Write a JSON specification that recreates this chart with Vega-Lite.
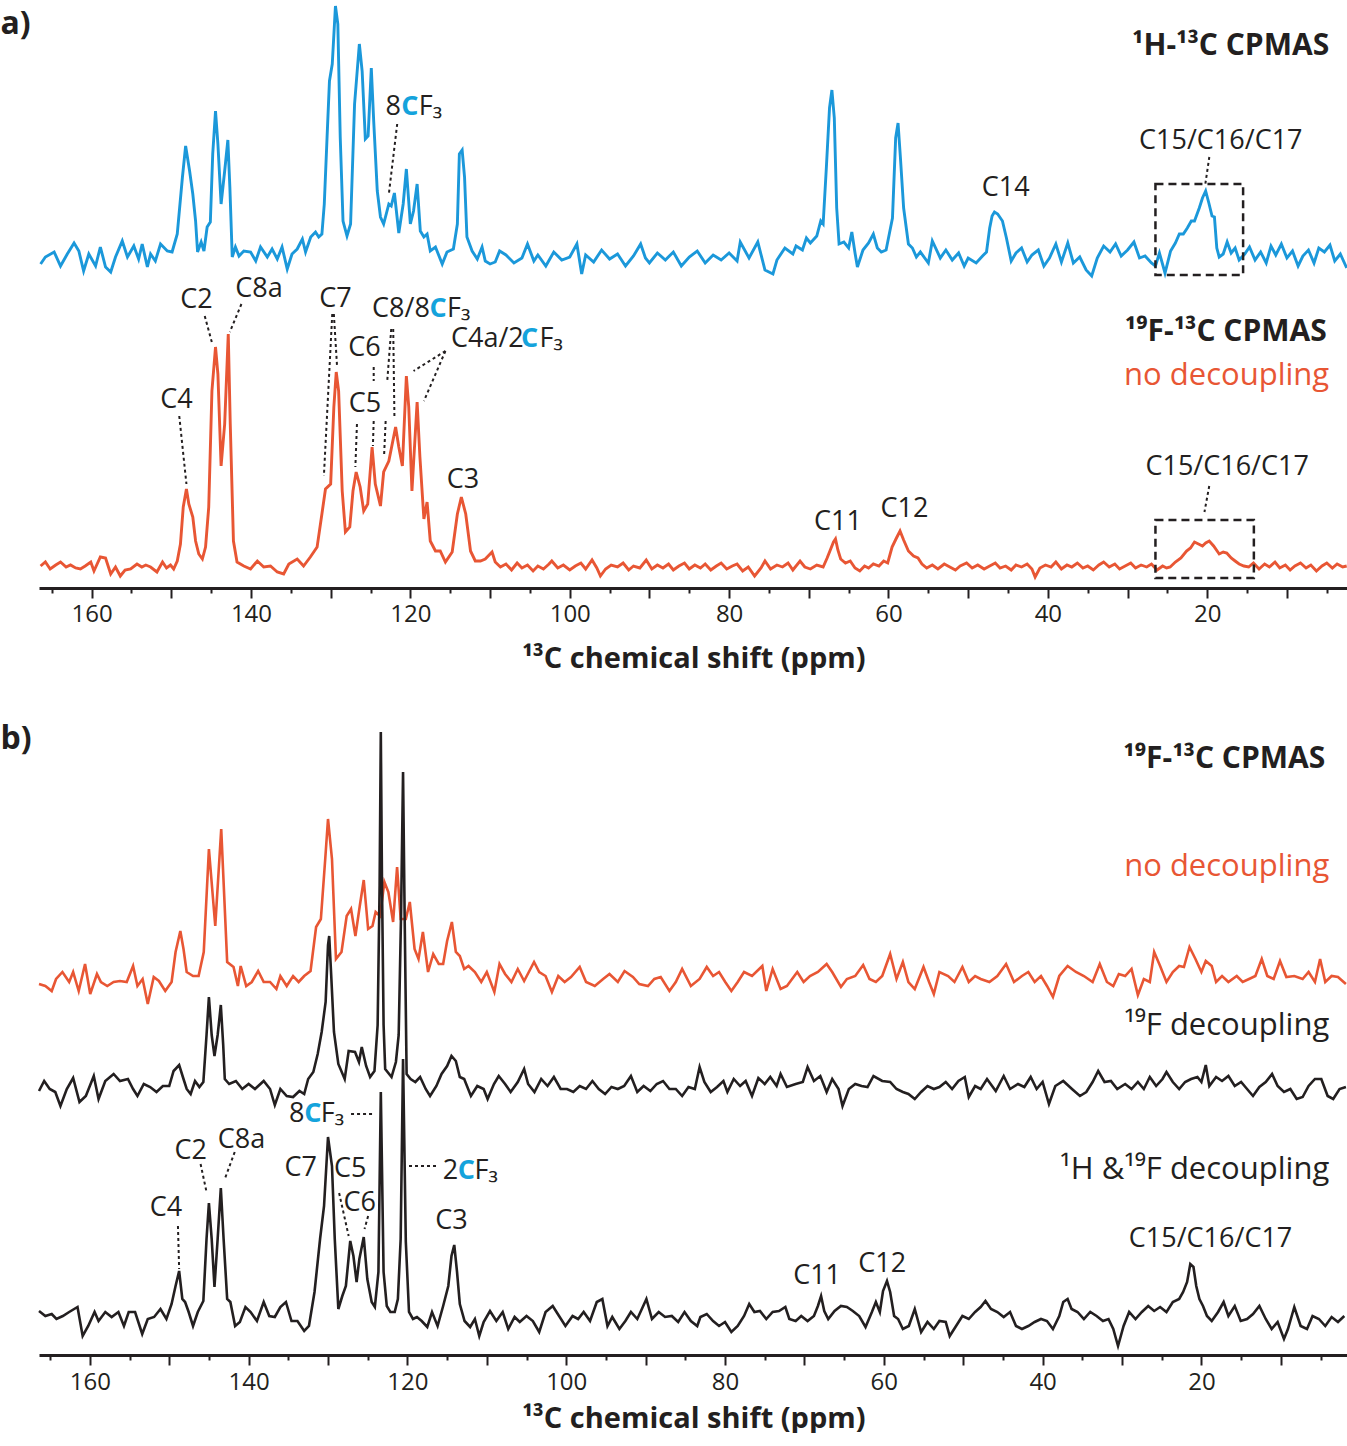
{
"$schema":"https://vega.github.io/schema/vega-lite/v6.json",
"padding":0,
"background":"white",
"spacing":46,
"config":{"view":{"stroke":null},"font":"Open Sans"},
"datasets":{
"a1":[{"p":166.4,"v":324},{"p":165.8,"v":331},{"p":164.7,"v":336},{"p":163.9,"v":322},{"p":163.05,"v":334},{"p":162.2,"v":345},{"p":161.6,"v":337},{"p":161.0,"v":317},{"p":160.35,"v":334},{"p":159.5,"v":322},{"p":158.9,"v":341},{"p":158.25,"v":321},{"p":157.6,"v":316},{"p":157.0,"v":331},{"p":156.15,"v":347},{"p":155.5,"v":331},{"p":154.7,"v":342},{"p":154.1,"v":329},{"p":153.65,"v":344},{"p":153.0,"v":321},{"p":152.6,"v":334},{"p":152.0,"v":327},{"p":151.35,"v":344},{"p":150.5,"v":337},{"p":149.9,"v":336},{"p":149.25,"v":354},{"p":148.6,"v":411},{"p":148.2,"v":442},{"p":147.7,"v":417},{"p":147.3,"v":394},{"p":146.95,"v":367},{"p":146.7,"v":336},{"p":146.25,"v":346},{"p":145.9,"v":337},{"p":145.5,"v":361},{"p":145.1,"v":366},{"p":144.8,"v":434},{"p":144.45,"v":477},{"p":144.15,"v":444},{"p":143.75,"v":384},{"p":143.3,"v":417},{"p":142.9,"v":448},{"p":142.65,"v":401},{"p":142.35,"v":331},{"p":141.95,"v":341},{"p":141.5,"v":332},{"p":140.9,"v":337},{"p":140.05,"v":336},{"p":139.4,"v":327},{"p":138.8,"v":341},{"p":137.95,"v":331},{"p":137.35,"v":339},{"p":136.7,"v":329},{"p":136.1,"v":341},{"p":135.45,"v":319},{"p":134.85,"v":334},{"p":134.2,"v":339},{"p":133.55,"v":349},{"p":133.15,"v":336},{"p":132.5,"v":351},{"p":131.9,"v":356},{"p":131.5,"v":351},{"p":131.1,"v":354},{"p":130.8,"v":384},{"p":130.45,"v":451},{"p":130.15,"v":507},{"p":129.8,"v":524},{"p":129.4,"v":582},{"p":129.1,"v":564},{"p":128.8,"v":451},{"p":128.45,"v":367},{"p":127.95,"v":352},{"p":127.5,"v":364},{"p":127.0,"v":484},{"p":126.4,"v":544},{"p":126.05,"v":517},{"p":125.65,"v":449},{"p":125.3,"v":452},{"p":124.9,"v":520},{"p":124.6,"v":467},{"p":124.15,"v":397},{"p":123.75,"v":371},{"p":123.35,"v":364},{"p":122.7,"v":384},{"p":122.4,"v":382},{"p":122.0,"v":395},{"p":121.45,"v":355},{"p":120.9,"v":384},{"p":120.5,"v":419},{"p":120.0,"v":364},{"p":119.6,"v":377},{"p":119.15,"v":404},{"p":118.75,"v":357},{"p":118.3,"v":351},{"p":117.9,"v":354},{"p":117.5,"v":337},{"p":116.85,"v":341},{"p":116.0,"v":324},{"p":115.4,"v":336},{"p":114.6,"v":339},{"p":114.1,"v":364},{"p":113.85,"v":434},{"p":113.5,"v":438},{"p":113.2,"v":411},{"p":112.9,"v":351},{"p":112.25,"v":337},{"p":111.6,"v":329},{"p":111.0,"v":341},{"p":110.6,"v":327},{"p":110.0,"v":324},{"p":109.35,"v":326},{"p":108.8,"v":337},{"p":108,"v":333},{"p":107,"v":325},{"p":106,"v":330},{"p":105.3,"v":344},{"p":104.5,"v":327},{"p":104,"v":333},{"p":103,"v":322},{"p":102,"v":336},{"p":101,"v":328},{"p":100,"v":331},{"p":99.1,"v":344},{"p":98.5,"v":314},{"p":98,"v":333},{"p":97,"v":326},{"p":96,"v":338},{"p":95,"v":329},{"p":94,"v":334},{"p":93,"v":322},{"p":92,"v":332},{"p":91.1,"v":344},{"p":90.5,"v":330},{"p":90,"v":325},{"p":89,"v":335},{"p":88,"v":328},{"p":87,"v":336},{"p":86,"v":322},{"p":85,"v":331},{"p":84,"v":337},{"p":83,"v":325},{"p":82,"v":333},{"p":81,"v":328},{"p":80,"v":335},{"p":79,"v":327},{"p":78.6,"v":346},{"p":77.5,"v":330},{"p":76.4,"v":346},{"p":75.5,"v":318},{"p":74.5,"v":314},{"p":74,"v":328},{"p":73,"v":340},{"p":72,"v":334},{"p":71.6,"v":342},{"p":70.8,"v":338},{"p":70.3,"v":350},{"p":69.8,"v":345},{"p":69,"v":352},{"p":68.5,"v":367},{"p":68.2,"v":364},{"p":67.8,"v":420},{"p":67.4,"v":480},{"p":67.1,"v":498},{"p":66.8,"v":470},{"p":66.5,"v":380},{"p":66.2,"v":344},{"p":65.6,"v":346},{"p":65.0,"v":340},{"p":64.6,"v":356},{"p":64.2,"v":335},{"p":63.9,"v":321},{"p":63.2,"v":338},{"p":62.5,"v":345},{"p":61.9,"v":354},{"p":61.4,"v":340},{"p":60.9,"v":336},{"p":60.3,"v":338},{"p":59.9,"v":354},{"p":59.5,"v":370},{"p":59.1,"v":450},{"p":58.8,"v":465},{"p":58.5,"v":430},{"p":58.1,"v":380},{"p":57.5,"v":344},{"p":57,"v":340},{"p":56.5,"v":331},{"p":56,"v":336},{"p":55,"v":325},{"p":54.5,"v":347},{"p":53.5,"v":330},{"p":52.8,"v":338},{"p":52,"v":328},{"p":51.2,"v":335},{"p":50.5,"v":322},{"p":50,"v":330},{"p":49,"v":325},{"p":48.2,"v":332},{"p":47.7,"v":336},{"p":47.3,"v":360},{"p":47.0,"v":372},{"p":46.7,"v":376},{"p":46.3,"v":374},{"p":45.7,"v":367},{"p":45.2,"v":350},{"p":44.6,"v":327},{"p":44,"v":335},{"p":43.3,"v":340},{"p":42.6,"v":326},{"p":42,"v":333},{"p":41.2,"v":338},{"p":40.5,"v":322},{"p":39.8,"v":330},{"p":39,"v":344},{"p":38.3,"v":326},{"p":37.5,"v":345},{"p":36.8,"v":325},{"p":36,"v":331},{"p":35.2,"v":318},{"p":34.5,"v":312},{"p":33.8,"v":330},{"p":33,"v":342},{"p":32.2,"v":336},{"p":31.5,"v":344},{"p":30.8,"v":332},{"p":30,"v":338},{"p":29.2,"v":346},{"p":28.5,"v":330},{"p":27.8,"v":332},{"p":27,"v":325},{"p":26.5,"v":322},{"p":26,"v":335},{"p":25.3,"v":315},{"p":24.6,"v":337},{"p":24,"v":345},{"p":23.5,"v":354},{"p":23.0,"v":354},{"p":22.5,"v":360},{"p":22.0,"v":367},{"p":21.6,"v":367},{"p":21.0,"v":380},{"p":20.6,"v":390},{"p":20.2,"v":397},{"p":19.8,"v":385},{"p":19.4,"v":372},{"p":19.1,"v":371},{"p":18.8,"v":340},{"p":18.5,"v":331},{"p":18.0,"v":334},{"p":17.5,"v":346},{"p":17.0,"v":335},{"p":16.5,"v":340},{"p":16,"v":328},{"p":15.3,"v":334},{"p":14.7,"v":341},{"p":14,"v":328},{"p":13.3,"v":336},{"p":12.6,"v":325},{"p":12,"v":342},{"p":11.4,"v":333},{"p":10.7,"v":344},{"p":10,"v":330},{"p":9.3,"v":337},{"p":8.6,"v":322},{"p":8,"v":332},{"p":7.3,"v":338},{"p":6.6,"v":325},{"p":6,"v":340},{"p":5.3,"v":336},{"p":4.6,"v":343},{"p":4,"v":327},{"p":3.3,"v":334},{"p":2.5,"v":320}],
"a2":[{"p":166.4,"v":22},{"p":165.8,"v":26},{"p":165.2,"v":19},{"p":164.5,"v":23},{"p":163.9,"v":26},{"p":163.2,"v":21},{"p":162.65,"v":23},{"p":162.0,"v":20},{"p":161.4,"v":19},{"p":160.8,"v":22},{"p":160.1,"v":26},{"p":159.7,"v":17},{"p":158.9,"v":31},{"p":158.25,"v":30},{"p":157.6,"v":14},{"p":157.0,"v":21},{"p":156.4,"v":12},{"p":155.8,"v":18},{"p":155.1,"v":19},{"p":154.3,"v":24},{"p":153.7,"v":21},{"p":153.2,"v":23},{"p":152.6,"v":21},{"p":151.8,"v":16},{"p":151.1,"v":26},{"p":150.6,"v":20},{"p":150.1,"v":23},{"p":149.7,"v":19},{"p":149.25,"v":27},{"p":148.85,"v":44},{"p":148.5,"v":81},{"p":148.1,"v":99},{"p":147.8,"v":84},{"p":147.3,"v":71},{"p":146.95,"v":47},{"p":146.55,"v":34},{"p":146.1,"v":29},{"p":145.7,"v":41},{"p":145.3,"v":81},{"p":144.9,"v":197},{"p":144.45,"v":241},{"p":144.15,"v":214},{"p":143.75,"v":122},{"p":143.3,"v":164},{"p":142.85,"v":254},{"p":142.6,"v":164},{"p":142.2,"v":47},{"p":141.75,"v":26},{"p":140.9,"v":22},{"p":140.05,"v":19},{"p":139.2,"v":27},{"p":138.4,"v":21},{"p":137.55,"v":22},{"p":136.7,"v":16},{"p":135.9,"v":14},{"p":135.25,"v":24},{"p":134.2,"v":29},{"p":133.4,"v":22},{"p":132.55,"v":31},{"p":131.7,"v":41},{"p":131.1,"v":74},{"p":130.65,"v":99},{"p":130.0,"v":104},{"p":129.6,"v":181},{"p":129.3,"v":216},{"p":129.0,"v":197},{"p":128.55,"v":97},{"p":128.15,"v":56},{"p":127.6,"v":61},{"p":127.2,"v":97},{"p":126.8,"v":116},{"p":126.3,"v":101},{"p":125.85,"v":77},{"p":125.35,"v":84},{"p":124.8,"v":141},{"p":124.4,"v":104},{"p":123.75,"v":82},{"p":123.35,"v":116},{"p":122.7,"v":127},{"p":121.85,"v":161},{"p":121.45,"v":141},{"p":121.0,"v":122},{"p":120.5,"v":212},{"p":120.2,"v":181},{"p":119.8,"v":97},{"p":119.15,"v":186},{"p":118.8,"v":131},{"p":118.3,"v":69},{"p":117.9,"v":86},{"p":117.5,"v":47},{"p":116.85,"v":37},{"p":116.25,"v":37},{"p":115.6,"v":26},{"p":114.75,"v":36},{"p":114.1,"v":74},{"p":113.6,"v":91},{"p":113.05,"v":74},{"p":112.45,"v":37},{"p":111.85,"v":27},{"p":111.2,"v":27},{"p":110.6,"v":29},{"p":109.75,"v":36},{"p":109.35,"v":26},{"p":108.7,"v":21},{"p":108,"v":24},{"p":107.3,"v":18},{"p":106.6,"v":25},{"p":106,"v":20},{"p":105.3,"v":23},{"p":104.6,"v":17},{"p":104,"v":22},{"p":103.3,"v":19},{"p":102.6,"v":24},{"p":102.25,"v":27},{"p":101.5,"v":20},{"p":100.8,"v":23},{"p":100,"v":18},{"p":99.3,"v":22},{"p":98.6,"v":25},{"p":98,"v":19},{"p":97.2,"v":28},{"p":96.6,"v":20},{"p":96.15,"v":12},{"p":95.5,"v":19},{"p":94.8,"v":23},{"p":94,"v":21},{"p":93.3,"v":25},{"p":92.6,"v":18},{"p":92,"v":22},{"p":91.2,"v":20},{"p":90.4,"v":28},{"p":89.7,"v":19},{"p":89,"v":23},{"p":88.3,"v":20},{"p":87.6,"v":24},{"p":87,"v":18},{"p":86.3,"v":22},{"p":85.6,"v":25},{"p":85,"v":19},{"p":84.3,"v":23},{"p":83.6,"v":20},{"p":83,"v":24},{"p":82.3,"v":18},{"p":81.6,"v":22},{"p":81,"v":25},{"p":80.3,"v":19},{"p":79.6,"v":22},{"p":79,"v":24},{"p":78.3,"v":17},{"p":77.6,"v":21},{"p":76.8,"v":12},{"p":76,"v":20},{"p":75.5,"v":27},{"p":74.8,"v":19},{"p":74,"v":23},{"p":73.3,"v":21},{"p":72.6,"v":25},{"p":72,"v":18},{"p":71.1,"v":27},{"p":70.5,"v":21},{"p":69.8,"v":19},{"p":69,"v":23},{"p":68.2,"v":21},{"p":67.7,"v":30},{"p":67.35,"v":37},{"p":66.9,"v":46},{"p":66.65,"v":49},{"p":66.35,"v":38},{"p":66.0,"v":29},{"p":65.4,"v":25},{"p":64.8,"v":27},{"p":64.2,"v":20},{"p":63.6,"v":17},{"p":63,"v":22},{"p":62.5,"v":20},{"p":61.9,"v":24},{"p":61.2,"v":22},{"p":60.6,"v":27},{"p":60.1,"v":25},{"p":59.55,"v":41},{"p":59.0,"v":50},{"p":58.55,"v":57},{"p":58.1,"v":48},{"p":57.5,"v":37},{"p":56.85,"v":32},{"p":56.3,"v":30},{"p":55.8,"v":24},{"p":55.2,"v":20},{"p":54.5,"v":23},{"p":53.8,"v":19},{"p":53,"v":24},{"p":52.3,"v":21},{"p":51.6,"v":18},{"p":51,"v":22},{"p":50.2,"v":25},{"p":49.5,"v":20},{"p":48.8,"v":23},{"p":48,"v":19},{"p":47.3,"v":22},{"p":46.6,"v":25},{"p":46,"v":20},{"p":45.3,"v":22},{"p":44.6,"v":18},{"p":44,"v":23},{"p":43.3,"v":21},{"p":42.6,"v":24},{"p":42,"v":19},{"p":41.6,"v":11},{"p":41,"v":20},{"p":40.3,"v":23},{"p":39.6,"v":21},{"p":39,"v":26},{"p":38.3,"v":19},{"p":37.6,"v":23},{"p":37,"v":21},{"p":36.3,"v":25},{"p":35.6,"v":20},{"p":35,"v":22},{"p":34.3,"v":18},{"p":33.6,"v":23},{"p":33,"v":26},{"p":32.3,"v":21},{"p":31.6,"v":24},{"p":31,"v":19},{"p":30.3,"v":22},{"p":29.6,"v":25},{"p":29,"v":20},{"p":28.3,"v":23},{"p":27.6,"v":21},{"p":27,"v":24},{"p":26.3,"v":18},{"p":25.6,"v":22},{"p":25.1,"v":20},{"p":24.65,"v":21},{"p":24,"v":26},{"p":23.3,"v":30},{"p":22.6,"v":37},{"p":22.1,"v":40},{"p":21.6,"v":46},{"p":21.1,"v":44},{"p":20.6,"v":42},{"p":20.2,"v":45},{"p":19.75,"v":47},{"p":19.2,"v":42},{"p":18.5,"v":34},{"p":18.0,"v":36},{"p":17.55,"v":35},{"p":17.0,"v":30},{"p":16.5,"v":27},{"p":16.0,"v":24},{"p":15.4,"v":22},{"p":14.8,"v":21},{"p":14.2,"v":25},{"p":13.5,"v":19},{"p":12.8,"v":24},{"p":12.2,"v":21},{"p":11.5,"v":26},{"p":10.9,"v":20},{"p":10.2,"v":23},{"p":9.6,"v":18},{"p":9,"v":22},{"p":8.3,"v":25},{"p":7.6,"v":20},{"p":7,"v":23},{"p":6.3,"v":17},{"p":5.6,"v":22},{"p":5,"v":25},{"p":4.3,"v":20},{"p":3.7,"v":24},{"p":3,"v":21},{"p":2.5,"v":22}],
"aLab":[{"t":"C4","p":149.35,"v":188},{"t":"C2","p":146.85,"v":288},{"t":"C8a","p":139.0,"v":299},{"t":"C7","p":129.4,"v":289},{"t":"C6","p":125.75,"v":240},{"t":"C5","p":125.7,"v":184},{"t":"C3","p":113.4,"v":108},{"t":"C14","p":45.3,"v":400},{"t":"C15/C16/C17","p":18.3,"v":447},{"t":"C11","p":66.35,"v":66},{"t":"C12","p":58.0,"v":79},{"t":"C15/C16/C17","p":17.5,"v":121}],
"aFrag":[{"t":"8","p":123.12,"v":481,"part":"text"},{"t":"C","p":121.15,"v":481,"part":"carbon"},{"t":"F₃","p":118.95,"v":481,"part":"text"},{"t":"C8/8","p":124.8,"v":279,"part":"text"},{"t":"C","p":117.6,"v":279,"part":"carbon"},{"t":"F₃","p":115.4,"v":279,"part":"text"},{"t":"C4a/2","p":114.9,"v":249,"part":"text"},{"t":"C","p":106.1,"v":249,"part":"carbon"},{"t":"F₃","p":103.8,"v":249,"part":"text"}],
"aLead":[{"p":121.65,"v":464,"p2":122.7,"v2":394},{"p":19.74,"v":431,"p2":20.24,"v2":404},{"p":149.0,"v":172,"p2":148.1,"v2":104},{"p":145.8,"v":272,"p2":144.85,"v2":244},{"p":141.2,"v":284,"p2":142.65,"v2":256},{"p":129.8,"v":274,"p2":130.85,"v2":112},{"p":129.6,"v":274,"p2":129.2,"v2":222},{"p":124.6,"v":221,"p2":124.6,"v2":207},{"p":124.6,"v":167,"p2":124.7,"v2":142},{"p":126.7,"v":164,"p2":126.9,"v2":121},{"p":122.4,"v":259,"p2":122.9,"v2":207},{"p":122.15,"v":259,"p2":122.0,"v2":172},{"p":123.1,"v":167,"p2":123.3,"v2":132},{"p":115.6,"v":237,"p2":119.6,"v2":217},{"p":115.6,"v":237,"p2":118.3,"v2":187},{"p":19.75,"v":102,"p2":20.35,"v2":76}],
"aBox":[{"p":26.5,"v":313,"p2":15.5,"v2":404},{"p":26.5,"v":10,"p2":14.15,"v2":68}],
"aTitleB":[{"t":"¹H-¹³C  CPMAS","p":4.7,"v":542},{"t":"¹⁹F-¹³C CPMAS","p":5.0,"v":256}],
"aTitleN":[{"t":"no decoupling","p":4.7,"v":212,"exp":"no decoupling"}],
"aTag":[{"t":"a)","p":171.43,"v":564}],
"b1":[{"p":166.4,"v":371},{"p":165.6,"v":369},{"p":164.8,"v":364},{"p":164.25,"v":376},{"p":163.45,"v":383},{"p":162.6,"v":373},{"p":162.1,"v":383},{"p":161.4,"v":364},{"p":160.6,"v":391},{"p":159.95,"v":361},{"p":159.1,"v":381},{"p":158.6,"v":373},{"p":157.8,"v":369},{"p":157.0,"v":373},{"p":156.2,"v":374},{"p":155.35,"v":373},{"p":154.55,"v":389},{"p":154.0,"v":369},{"p":153.35,"v":376},{"p":152.7,"v":351},{"p":151.95,"v":378},{"p":151.3,"v":374},{"p":150.5,"v":364},{"p":149.7,"v":373},{"p":149.2,"v":403},{"p":148.6,"v":424},{"p":148.2,"v":406},{"p":147.8,"v":383},{"p":147.0,"v":379},{"p":146.3,"v":379},{"p":145.65,"v":403},{"p":145.0,"v":506},{"p":144.2,"v":429},{"p":143.45,"v":526},{"p":142.7,"v":393},{"p":141.9,"v":388},{"p":141.35,"v":369},{"p":141.0,"v":389},{"p":140.3,"v":369},{"p":139.6,"v":373},{"p":138.8,"v":384},{"p":138.1,"v":373},{"p":137.3,"v":373},{"p":136.5,"v":366},{"p":136.0,"v":379},{"p":135.2,"v":369},{"p":134.4,"v":379},{"p":133.7,"v":373},{"p":133.0,"v":379},{"p":132.2,"v":384},{"p":131.5,"v":428},{"p":130.9,"v":436},{"p":130.35,"v":496},{"p":130.0,"v":536},{"p":129.5,"v":496},{"p":129.0,"v":396},{"p":128.3,"v":403},{"p":127.65,"v":439},{"p":127.1,"v":446},{"p":126.55,"v":419},{"p":126.0,"v":449},{"p":125.5,"v":475},{"p":124.95,"v":426},{"p":124.4,"v":429},{"p":124.0,"v":443},{"p":123.45,"v":439},{"p":122.9,"v":473},{"p":122.4,"v":463},{"p":121.8,"v":433},{"p":121.3,"v":488},{"p":120.85,"v":436},{"p":120.2,"v":436},{"p":119.7,"v":453},{"p":119.1,"v":406},{"p":118.6,"v":396},{"p":118.05,"v":423},{"p":117.4,"v":383},{"p":116.75,"v":401},{"p":116.05,"v":391},{"p":115.5,"v":391},{"p":115.0,"v":414},{"p":114.4,"v":433},{"p":113.9,"v":403},{"p":113.4,"v":399},{"p":112.85,"v":386},{"p":112.3,"v":389},{"p":111.5,"v":383},{"p":110.7,"v":373},{"p":110.0,"v":383},{"p":109.05,"v":363},{"p":108.4,"v":391},{"p":107.7,"v":381},{"p":106.9,"v":373},{"p":106.1,"v":386},{"p":105.3,"v":374},{"p":104.05,"v":393},{"p":103.4,"v":383},{"p":102.6,"v":379},{"p":101.8,"v":363},{"p":101.0,"v":379},{"p":100.2,"v":373},{"p":99.4,"v":378},{"p":98.3,"v":388},{"p":97.5,"v":373},{"p":96.4,"v":369},{"p":95.35,"v":376},{"p":94.55,"v":381},{"p":93.5,"v":373},{"p":92.65,"v":384},{"p":91.6,"v":378},{"p":90.8,"v":371},{"p":89.7,"v":369},{"p":88.9,"v":376},{"p":88.1,"v":378},{"p":87.0,"v":364},{"p":86.2,"v":373},{"p":85.4,"v":386},{"p":84.3,"v":369},{"p":83.2,"v":376},{"p":82.3,"v":388},{"p":81.5,"v":379},{"p":80.75,"v":383},{"p":79.97,"v":373},{"p":79.2,"v":364},{"p":78.4,"v":373},{"p":77.6,"v":383},{"p":76.6,"v":379},{"p":75.3,"v":389},{"p":74.8,"v":364},{"p":74.0,"v":386},{"p":73.0,"v":366},{"p":72.2,"v":369},{"p":70.9,"v":383},{"p":70.1,"v":373},{"p":69.3,"v":379},{"p":68.3,"v":383},{"p":67.2,"v":391},{"p":66.5,"v":383},{"p":65.4,"v":368},{"p":64.65,"v":376},{"p":63.6,"v":379},{"p":62.6,"v":390},{"p":61.8,"v":376},{"p":61.0,"v":373},{"p":60.2,"v":379},{"p":59.2,"v":401},{"p":58.4,"v":376},{"p":57.6,"v":393},{"p":56.9,"v":373},{"p":56.1,"v":366},{"p":55.0,"v":388},{"p":54.3,"v":373},{"p":53.7,"v":361},{"p":53.0,"v":383},{"p":51.9,"v":379},{"p":51.1,"v":373},{"p":50.1,"v":388},{"p":49.3,"v":373},{"p":48.5,"v":379},{"p":47.8,"v":376},{"p":46.7,"v":373},{"p":45.7,"v":379},{"p":44.6,"v":391},{"p":43.6,"v":373},{"p":42.6,"v":379},{"p":41.8,"v":383},{"p":41.0,"v":373},{"p":40.2,"v":379},{"p":39.45,"v":369},{"p":38.7,"v":358},{"p":37.9,"v":379},{"p":36.85,"v":389},{"p":35.8,"v":383},{"p":34.8,"v":379},{"p":33.7,"v":373},{"p":32.8,"v":391},{"p":31.9,"v":373},{"p":31.1,"v":369},{"p":30.4,"v":381},{"p":29.6,"v":379},{"p":28.8,"v":386},{"p":28.0,"v":360},{"p":27.25,"v":376},{"p":26.5,"v":373},{"p":25.95,"v":403},{"p":25.2,"v":389},{"p":24.4,"v":373},{"p":23.6,"v":383},{"p":22.8,"v":389},{"p":22.2,"v":388},{"p":21.5,"v":408},{"p":20.75,"v":396},{"p":20.0,"v":383},{"p":19.45,"v":394},{"p":18.7,"v":389},{"p":18.15,"v":373},{"p":17.4,"v":379},{"p":16.6,"v":373},{"p":15.55,"v":379},{"p":14.8,"v":373},{"p":14.0,"v":376},{"p":13.2,"v":379},{"p":12.4,"v":396},{"p":11.7,"v":379},{"p":10.9,"v":376},{"p":10.1,"v":394},{"p":9.3,"v":378},{"p":8.3,"v":379},{"p":7.25,"v":376},{"p":6.5,"v":383},{"p":5.7,"v":373},{"p":5.05,"v":396},{"p":4.4,"v":373},{"p":3.6,"v":379},{"p":2.8,"v":378},{"p":1.8,"v":371}],
"b2":[{"p":166.4,"v":264},{"p":165.75,"v":274},{"p":165.05,"v":266},{"p":164.35,"v":263},{"p":163.7,"v":249},{"p":162.9,"v":266},{"p":162.1,"v":277},{"p":161.3,"v":253},{"p":160.5,"v":259},{"p":159.5,"v":279},{"p":158.9,"v":256},{"p":158.05,"v":274},{"p":157.0,"v":281},{"p":156.2,"v":274},{"p":155.2,"v":276},{"p":154.55,"v":266},{"p":154.0,"v":259},{"p":153.2,"v":271},{"p":152.4,"v":268},{"p":151.6,"v":263},{"p":150.8,"v":269},{"p":150.0,"v":269},{"p":149.45,"v":284},{"p":148.75,"v":290},{"p":148.2,"v":276},{"p":147.8,"v":266},{"p":147.3,"v":261},{"p":146.75,"v":274},{"p":146.2,"v":268},{"p":145.7,"v":273},{"p":145.3,"v":320},{"p":145.0,"v":358},{"p":144.65,"v":320},{"p":144.3,"v":299},{"p":143.9,"v":320},{"p":143.5,"v":350},{"p":143.2,"v":310},{"p":143.0,"v":276},{"p":142.45,"v":271},{"p":141.6,"v":274},{"p":140.8,"v":266},{"p":140.0,"v":271},{"p":139.2,"v":266},{"p":138.1,"v":274},{"p":137.3,"v":266},{"p":136.7,"v":250},{"p":136.0,"v":266},{"p":135.2,"v":259},{"p":134.4,"v":258},{"p":133.6,"v":264},{"p":133.0,"v":261},{"p":132.5,"v":276},{"p":131.85,"v":283},{"p":131.3,"v":301},{"p":130.8,"v":323},{"p":130.3,"v":353},{"p":130.0,"v":410},{"p":129.85,"v":419},{"p":129.6,"v":380},{"p":129.25,"v":323},{"p":128.7,"v":291},{"p":127.9,"v":276},{"p":127.4,"v":304},{"p":126.6,"v":303},{"p":126.1,"v":293},{"p":125.75,"v":308},{"p":125.2,"v":289},{"p":124.7,"v":278},{"p":124.15,"v":284},{"p":123.75,"v":330},{"p":123.5,"v":470},{"p":123.35,"v":623},{"p":123.2,"v":470},{"p":123.0,"v":330},{"p":122.8,"v":286},{"p":122.0,"v":278},{"p":121.45,"v":293},{"p":121.1,"v":320},{"p":120.8,"v":440},{"p":120.55,"v":583},{"p":120.35,"v":440},{"p":120.1,"v":281},{"p":119.6,"v":276},{"p":119.0,"v":273},{"p":118.4,"v":278},{"p":117.7,"v":266},{"p":117.15,"v":259},{"p":116.35,"v":269},{"p":115.7,"v":281},{"p":115.0,"v":289},{"p":114.45,"v":299},{"p":113.9,"v":294},{"p":113.4,"v":278},{"p":112.85,"v":276},{"p":112.0,"v":259},{"p":111.2,"v":269},{"p":110.4,"v":266},{"p":109.9,"v":256},{"p":109.1,"v":271},{"p":108.5,"v":279},{"p":107.7,"v":271},{"p":107.0,"v":263},{"p":106.1,"v":273},{"p":105.3,"v":286},{"p":104.8,"v":271},{"p":104.0,"v":263},{"p":103.15,"v":276},{"p":102.35,"v":269},{"p":101.55,"v":278},{"p":100.7,"v":266},{"p":99.9,"v":266},{"p":99.1,"v":263},{"p":98.3,"v":269},{"p":97.5,"v":266},{"p":96.7,"v":274},{"p":95.9,"v":266},{"p":95.1,"v":261},{"p":94.3,"v":268},{"p":93.5,"v":266},{"p":92.7,"v":269},{"p":91.85,"v":279},{"p":91.05,"v":263},{"p":90.25,"v":269},{"p":89.4,"v":264},{"p":88.6,"v":271},{"p":87.8,"v":274},{"p":87.0,"v":266},{"p":86.2,"v":266},{"p":85.4,"v":259},{"p":84.6,"v":268},{"p":83.8,"v":266},{"p":83.2,"v":288},{"p":82.6,"v":273},{"p":81.8,"v":263},{"p":81.0,"v":268},{"p":80.2,"v":274},{"p":79.7,"v":263},{"p":78.9,"v":276},{"p":78.1,"v":269},{"p":77.4,"v":274},{"p":76.6,"v":259},{"p":75.8,"v":277},{"p":75.0,"v":271},{"p":74.3,"v":278},{"p":73.5,"v":269},{"p":73.0,"v":281},{"p":72.2,"v":268},{"p":71.1,"v":271},{"p":70.2,"v":273},{"p":69.6,"v":288},{"p":68.8,"v":274},{"p":68.0,"v":279},{"p":67.2,"v":263},{"p":66.5,"v":276},{"p":65.7,"v":266},{"p":65.2,"v":249},{"p":64.4,"v":266},{"p":63.6,"v":271},{"p":62.8,"v":269},{"p":62.05,"v":268},{"p":61.3,"v":279},{"p":60.2,"v":274},{"p":59.2,"v":273},{"p":58.4,"v":266},{"p":57.6,"v":263},{"p":56.9,"v":261},{"p":56.1,"v":256},{"p":55.3,"v":263},{"p":54.5,"v":269},{"p":53.7,"v":266},{"p":53.0,"v":268},{"p":52.2,"v":273},{"p":51.4,"v":266},{"p":50.6,"v":274},{"p":49.8,"v":278},{"p":49.3,"v":258},{"p":48.5,"v":269},{"p":47.8,"v":266},{"p":47.0,"v":276},{"p":45.9,"v":264},{"p":44.9,"v":279},{"p":44.1,"v":266},{"p":43.1,"v":271},{"p":42.3,"v":268},{"p":41.5,"v":278},{"p":40.75,"v":266},{"p":40.0,"v":273},{"p":39.2,"v":251},{"p":38.4,"v":269},{"p":37.4,"v":274},{"p":36.3,"v":266},{"p":35.3,"v":259},{"p":34.5,"v":263},{"p":33.7,"v":273},{"p":33.0,"v":284},{"p":32.2,"v":273},{"p":31.4,"v":274},{"p":30.6,"v":266},{"p":29.6,"v":271},{"p":28.8,"v":266},{"p":28.0,"v":273},{"p":27.25,"v":266},{"p":26.5,"v":278},{"p":25.7,"v":269},{"p":24.9,"v":276},{"p":24.4,"v":283},{"p":23.6,"v":273},{"p":22.8,"v":266},{"p":22.05,"v":273},{"p":21.3,"v":276},{"p":20.5,"v":278},{"p":20.0,"v":273},{"p":19.45,"v":290},{"p":19.0,"v":269},{"p":18.15,"v":278},{"p":17.4,"v":274},{"p":16.6,"v":279},{"p":15.8,"v":269},{"p":15.0,"v":273},{"p":14.25,"v":266},{"p":13.5,"v":259},{"p":12.7,"v":268},{"p":11.9,"v":273},{"p":11.1,"v":281},{"p":10.4,"v":269},{"p":9.6,"v":263},{"p":8.8,"v":266},{"p":8.0,"v":256},{"p":7.25,"v":258},{"p":6.5,"v":269},{"p":5.7,"v":276},{"p":4.9,"v":276},{"p":4.1,"v":259},{"p":3.4,"v":256},{"p":2.6,"v":266},{"p":1.8,"v":268}],
"b3":[{"p":166.4,"v":44},{"p":165.6,"v":39},{"p":164.8,"v":41},{"p":164.2,"v":36},{"p":163.4,"v":39},{"p":162.6,"v":43},{"p":161.55,"v":48},{"p":160.9,"v":19},{"p":160.2,"v":29},{"p":159.4,"v":43},{"p":158.9,"v":34},{"p":158.05,"v":43},{"p":157.25,"v":38},{"p":156.4,"v":43},{"p":155.7,"v":29},{"p":155.1,"v":43},{"p":154.3,"v":43},{"p":153.4,"v":21},{"p":152.7,"v":36},{"p":151.9,"v":38},{"p":151.1,"v":46},{"p":150.35,"v":36},{"p":149.7,"v":51},{"p":149.2,"v":69},{"p":148.75,"v":84},{"p":148.35,"v":56},{"p":148.0,"v":53},{"p":147.55,"v":43},{"p":147.0,"v":29},{"p":146.4,"v":43},{"p":145.7,"v":54},{"p":145.3,"v":116},{"p":145.0,"v":152},{"p":144.65,"v":116},{"p":144.3,"v":68},{"p":143.9,"v":116},{"p":143.5,"v":167},{"p":143.15,"v":116},{"p":142.7,"v":56},{"p":142.3,"v":53},{"p":141.7,"v":29},{"p":141.1,"v":33},{"p":140.4,"v":48},{"p":139.75,"v":43},{"p":138.95,"v":34},{"p":138.1,"v":53},{"p":137.4,"v":39},{"p":136.7,"v":38},{"p":136.0,"v":48},{"p":135.3,"v":53},{"p":134.6,"v":34},{"p":133.85,"v":34},{"p":133.0,"v":24},{"p":132.4,"v":29},{"p":131.7,"v":63},{"p":131.0,"v":116},{"p":130.5,"v":149},{"p":130.0,"v":218},{"p":129.5,"v":189},{"p":129.15,"v":116},{"p":128.7,"v":46},{"p":128.2,"v":59},{"p":127.75,"v":69},{"p":127.2,"v":114},{"p":126.8,"v":99},{"p":126.4,"v":73},{"p":126.05,"v":96},{"p":125.5,"v":118},{"p":125.05,"v":76},{"p":124.5,"v":53},{"p":124.1,"v":48},{"p":123.65,"v":83},{"p":123.35,"v":263},{"p":123.0,"v":83},{"p":122.6,"v":49},{"p":122.15,"v":43},{"p":121.6,"v":43},{"p":121.2,"v":56},{"p":120.85,"v":116},{"p":120.55,"v":296},{"p":120.2,"v":113},{"p":119.8,"v":43},{"p":119.3,"v":36},{"p":118.8,"v":38},{"p":118.2,"v":34},{"p":117.5,"v":28},{"p":116.9,"v":43},{"p":116.2,"v":29},{"p":115.5,"v":49},{"p":114.85,"v":69},{"p":114.45,"v":99},{"p":114.1,"v":110},{"p":113.75,"v":83},{"p":113.4,"v":51},{"p":112.8,"v":34},{"p":112.1,"v":28},{"p":111.5,"v":36},{"p":110.95,"v":19},{"p":110.4,"v":33},{"p":109.6,"v":44},{"p":108.8,"v":34},{"p":108.0,"v":43},{"p":107.3,"v":26},{"p":106.5,"v":38},{"p":105.85,"v":33},{"p":105.0,"v":39},{"p":104.2,"v":34},{"p":103.4,"v":23},{"p":102.6,"v":43},{"p":101.7,"v":49},{"p":100.9,"v":39},{"p":100.1,"v":29},{"p":99.2,"v":39},{"p":98.5,"v":36},{"p":97.8,"v":43},{"p":97.0,"v":34},{"p":96.15,"v":53},{"p":95.45,"v":56},{"p":94.8,"v":29},{"p":94.2,"v":38},{"p":93.3,"v":26},{"p":92.55,"v":34},{"p":91.85,"v":43},{"p":91.05,"v":36},{"p":89.9,"v":56},{"p":89.2,"v":36},{"p":88.35,"v":43},{"p":87.55,"v":38},{"p":86.7,"v":39},{"p":85.9,"v":33},{"p":85.1,"v":43},{"p":84.3,"v":34},{"p":83.5,"v":29},{"p":83.1,"v":38},{"p":82.3,"v":41},{"p":81.5,"v":34},{"p":80.75,"v":29},{"p":80.0,"v":33},{"p":79.2,"v":23},{"p":78.4,"v":29},{"p":77.6,"v":39},{"p":76.95,"v":51},{"p":76.3,"v":43},{"p":75.6,"v":44},{"p":74.8,"v":36},{"p":74.0,"v":43},{"p":73.2,"v":44},{"p":72.4,"v":48},{"p":71.9,"v":36},{"p":71.1,"v":34},{"p":70.4,"v":39},{"p":69.6,"v":34},{"p":68.8,"v":39},{"p":68.3,"v":49},{"p":67.9,"v":59},{"p":67.5,"v":44},{"p":67.0,"v":36},{"p":66.2,"v":44},{"p":65.4,"v":49},{"p":64.65,"v":48},{"p":63.9,"v":44},{"p":63.1,"v":39},{"p":62.3,"v":28},{"p":61.5,"v":43},{"p":61.0,"v":53},{"p":60.5,"v":43},{"p":60.1,"v":64},{"p":59.6,"v":74},{"p":59.2,"v":63},{"p":58.7,"v":39},{"p":58.2,"v":36},{"p":57.6,"v":26},{"p":56.85,"v":29},{"p":56.1,"v":46},{"p":55.3,"v":23},{"p":54.5,"v":33},{"p":53.7,"v":26},{"p":53.0,"v":34},{"p":52.2,"v":33},{"p":51.7,"v":19},{"p":50.9,"v":29},{"p":50.1,"v":39},{"p":49.3,"v":36},{"p":48.5,"v":43},{"p":47.8,"v":48},{"p":47.2,"v":54},{"p":46.5,"v":46},{"p":45.7,"v":43},{"p":44.9,"v":38},{"p":44.1,"v":43},{"p":43.35,"v":29},{"p":42.6,"v":26},{"p":41.8,"v":29},{"p":41.0,"v":33},{"p":40.2,"v":36},{"p":39.45,"v":34},{"p":38.7,"v":26},{"p":37.9,"v":39},{"p":37.4,"v":53},{"p":36.85,"v":56},{"p":36.35,"v":46},{"p":35.6,"v":43},{"p":34.8,"v":36},{"p":34.0,"v":43},{"p":33.2,"v":39},{"p":32.4,"v":34},{"p":31.7,"v":36},{"p":31.1,"v":26},{"p":30.5,"v":9},{"p":29.8,"v":29},{"p":29.1,"v":43},{"p":28.3,"v":36},{"p":27.5,"v":43},{"p":26.7,"v":49},{"p":25.95,"v":44},{"p":25.2,"v":48},{"p":24.4,"v":43},{"p":23.6,"v":53},{"p":22.8,"v":56},{"p":22.3,"v":63},{"p":21.8,"v":73},{"p":21.4,"v":91},{"p":21.0,"v":88},{"p":20.65,"v":69},{"p":20.25,"v":56},{"p":19.8,"v":49},{"p":19.3,"v":39},{"p":18.7,"v":34},{"p":17.9,"v":43},{"p":17.2,"v":53},{"p":16.6,"v":39},{"p":15.8,"v":49},{"p":15.05,"v":34},{"p":14.25,"v":36},{"p":13.5,"v":41},{"p":12.7,"v":49},{"p":11.9,"v":36},{"p":11.15,"v":26},{"p":10.4,"v":33},{"p":9.6,"v":16},{"p":9.1,"v":26},{"p":8.3,"v":48},{"p":7.5,"v":29},{"p":6.7,"v":26},{"p":6.0,"v":39},{"p":5.2,"v":36},{"p":4.4,"v":29},{"p":3.6,"v":38},{"p":2.8,"v":33},{"p":2.0,"v":39}],
"bLab":[{"t":"C4","p":150.4,"v":147},{"t":"C2","p":147.3,"v":204},{"t":"C8a","p":140.9,"v":215},{"t":"C7","p":133.45,"v":187},{"t":"C5","p":127.2,"v":186},{"t":"C6","p":126.0,"v":152},{"t":"C3","p":114.45,"v":134},{"t":"C11","p":68.4,"v":79},{"t":"C12","p":60.2,"v":91},{"t":"C15/C16/C17","p":18.85,"v":116}],
"bFrag":[{"t":"8","p":134.9,"v":241,"part":"text"},{"t":"C","p":133.0,"v":241,"part":"carbon"},{"t":"F₃","p":130.9,"v":241,"part":"text"},{"t":"2","p":115.55,"v":184,"part":"text"},{"t":"C","p":113.65,"v":184,"part":"carbon"},{"t":"F₃","p":111.55,"v":184,"part":"text"}],
"bLead":[{"p":148.9,"v":129,"p2":148.75,"v2":86},{"p":146.05,"v":191,"p2":145.3,"v2":163},{"p":141.75,"v":203,"p2":143.0,"v2":176},{"p":128.6,"v":162,"p2":127.4,"v2":119},{"p":124.95,"v":139,"p2":125.4,"v2":126},{"p":127.1,"v":241,"p2":124.15,"v2":241},{"p":119.8,"v":189,"p2":116.1,"v2":189}],
"bTitleB":[{"t":"¹⁹F-¹³C CPMAS","p":4.4,"v":596}],
"bTitleN":[{"t":"no decoupling","p":3.9,"v":488,"exp":"no decoupling"},{"t":"¹⁹F decoupling","p":3.9,"v":329,"exp":"F decoupling"},{"t":"¹H &¹⁹F decoupling","p":3.9,"v":185,"exp":"H and F decoupling"}],
"bTag":[{"t":"b)","p":171.25,"v":616}]
},
"vconcat":[
{"width":1308.5,"height":584,
 "encoding":{
  "x":{"field":"p","type":"quantitative","scale":{"domain":[166.6,2.4],"nice":false,"zero":false},
       "axis":{"title":"¹³C chemical shift (ppm)","values":[5,10,15,20,25,30,35,40,45,50,55,60,65,70,75,80,85,90,95,100,105,110,115,120,125,130,135,140,145,150,155,160,165],
        "labelExpr":"datum.value % 20 === 0 ? datum.label : ''","tickSize":{"condition":{"test":"datum.value % 10 === 0","value":10},"value":5},
        "grid":false,"domainColor":"#231f20","domainWidth":3,"tickColor":"#231f20","tickWidth":2,"labelFont":"Open Sans","labelFontSize":24,"labelColor":"#231f20","labelPadding":4,"labelFlush":false,"labelOverlap":false,
        "titleFont":"Open Sans","titleFontSize":29,"titleFontWeight":"bold","titleColor":"#231f20","titlePadding":18}},
  "y":{"field":"v","type":"quantitative","scale":{"domain":[0,584],"nice":false,"zero":false},"axis":null}},
 "layer":[
  {"data":{"name":"a1"},"mark":{"type":"line","color":"#1b98da","strokeWidth":2.9},"encoding":{}},
  {"data":{"name":"a2"},"mark":{"type":"line","color":"#e85634","strokeWidth":2.9},"encoding":{}},
  {"data":{"name":"aBox"},"mark":{"type":"rect","filled":false,"stroke":"#231f20","strokeWidth":2.5,"strokeDash":[8,5]},"encoding":{"x2":{"field":"p2"},"y2":{"field":"v2"}}},
  {"data":{"name":"aLead"},"mark":{"type":"rule","color":"#231f20","strokeWidth":2,"strokeDash":[3,3]},"encoding":{"x2":{"field":"p2"},"y2":{"field":"v2"}}},
  {"data":{"name":"aLab"},"mark":{"type":"text","font":"Open Sans","fontSize":27,"align":"center","baseline":"middle","color":"#231f20"},"encoding":{"text":{"field":"t"}}},
  {"data":{"name":"aFrag"},"transform":[{"filter":"datum.part === 'text'"}],"mark":{"type":"text","font":"Open Sans","fontSize":27,"align":"left","baseline":"middle","color":"#231f20"},"encoding":{"text":{"field":"t"}}},
  {"data":{"name":"aFrag"},"transform":[{"filter":"datum.part === 'carbon'"}],"mark":{"type":"text","font":"Open Sans","fontWeight":"bold","fontSize":27,"align":"left","baseline":"middle","color":"#14a3dc"},"encoding":{"text":{"field":"t"}}},
  {"data":{"name":"aTitleB"},"mark":{"type":"text","font":"Open Sans","fontWeight":"bold","fontSize":30,"align":"right","baseline":"middle","color":"#231f20"},"encoding":{"text":{"field":"t"}}},
  {"data":{"name":"aTitleN"},"mark":{"type":"text","font":"Open Sans","fontSize":31,"align":"right","baseline":"middle","color":"#e85634"},"encoding":{"text":{"field":"t"}}},
  {"data":{"name":"aTag"},"mark":{"type":"text","font":"Open Sans","fontWeight":"bold","fontSize":32,"align":"left","baseline":"middle","color":"#231f20"},"encoding":{"text":{"field":"t"}}}
 ]},
{"width":1308.5,"height":636,
 "encoding":{
  "x":{"field":"p","type":"quantitative","scale":{"domain":[166.4,1.6],"nice":false,"zero":false},
       "axis":{"title":"¹³C chemical shift (ppm)","values":[5,10,15,20,25,30,35,40,45,50,55,60,65,70,75,80,85,90,95,100,105,110,115,120,125,130,135,140,145,150,155,160,165],
        "labelExpr":"datum.value % 20 === 0 ? datum.label : ''","tickSize":{"condition":{"test":"datum.value % 10 === 0","value":10},"value":5},
        "grid":false,"domainColor":"#231f20","domainWidth":3,"tickColor":"#231f20","tickWidth":2,"labelFont":"Open Sans","labelFontSize":24,"labelColor":"#231f20","labelPadding":5,"labelFlush":false,"labelOverlap":false,
        "titleFont":"Open Sans","titleFontSize":29,"titleFontWeight":"bold","titleColor":"#231f20","titlePadding":10}},
  "y":{"field":"v","type":"quantitative","scale":{"domain":[0,636],"nice":false,"zero":false},"axis":null}},
 "layer":[
  {"data":{"name":"b1"},"mark":{"type":"line","color":"#e85634","strokeWidth":2.6},"encoding":{}},
  {"data":{"name":"b2"},"mark":{"type":"line","color":"#231f20","strokeWidth":2.6},"encoding":{}},
  {"data":{"name":"b3"},"mark":{"type":"line","color":"#231f20","strokeWidth":2.6},"encoding":{}},
  {"data":{"name":"bLead"},"mark":{"type":"rule","color":"#231f20","strokeWidth":2,"strokeDash":[3,3]},"encoding":{"x2":{"field":"p2"},"y2":{"field":"v2"}}},
  {"data":{"name":"bLab"},"mark":{"type":"text","font":"Open Sans","fontSize":27,"align":"center","baseline":"middle","color":"#231f20"},"encoding":{"text":{"field":"t"}}},
  {"data":{"name":"bFrag"},"transform":[{"filter":"datum.part === 'text'"}],"mark":{"type":"text","font":"Open Sans","fontSize":27,"align":"left","baseline":"middle","color":"#231f20"},"encoding":{"text":{"field":"t"}}},
  {"data":{"name":"bFrag"},"transform":[{"filter":"datum.part === 'carbon'"}],"mark":{"type":"text","font":"Open Sans","fontWeight":"bold","fontSize":27,"align":"left","baseline":"middle","color":"#14a3dc"},"encoding":{"text":{"field":"t"}}},
  {"data":{"name":"bTitleB"},"mark":{"type":"text","font":"Open Sans","fontWeight":"bold","fontSize":30,"align":"right","baseline":"middle","color":"#231f20"},"encoding":{"text":{"field":"t"}}},
  {"data":{"name":"bTitleN"},"mark":{"type":"text","font":"Open Sans","fontSize":31,"align":"right","baseline":"middle"},"encoding":{"text":{"field":"t"},"color":{"field":"exp","type":"nominal","scale":{"domain":["no decoupling","F decoupling","H and F decoupling"],"range":["#e85634","#231f20","#231f20"]},"legend":null}}},
  {"data":{"name":"bTag"},"mark":{"type":"text","font":"Open Sans","fontWeight":"bold","fontSize":32,"align":"left","baseline":"middle","color":"#231f20"},"encoding":{"text":{"field":"t"}}}
 ]}
]
}
